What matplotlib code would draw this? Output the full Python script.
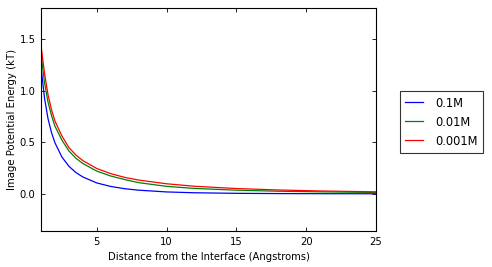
import matplotlib
matplotlib.use('Agg')
import matplotlib.pyplot as plt

# Data (distance in Angstroms, energy in kT)
distance = [1, 1.25, 1.5, 1.75, 2, 2.5, 3, 3.5, 4, 5, 6, 7, 8, 10, 12, 15, 18, 21, 25]
energy_01M = [1.23, 0.93, 0.73, 0.595, 0.494, 0.356, 0.267, 0.206, 0.163, 0.105,
              0.071, 0.049, 0.035, 0.018, 0.010, 0.0045, 0.0022, 0.001, 0.0003]
energy_001M = [1.35, 1.08, 0.89, 0.76, 0.655, 0.52, 0.415, 0.345, 0.293, 0.22,
               0.172, 0.138, 0.108, 0.072, 0.052, 0.035, 0.025, 0.019, 0.013]
energy_0001M = [1.44, 1.17, 0.963, 0.816, 0.705, 0.56, 0.448, 0.376, 0.321, 0.245,
                0.195, 0.159, 0.133, 0.097, 0.073, 0.051, 0.037, 0.0275, 0.019]
labels = ['0.1M', '0.01M', '0.001M']

plt.rcParams['font.family'] = 'DejaVu Sans'
plt.rcParams['font.size'] = 7

fig = plt.figure(figsize=(4.92, 2.67), dpi=100)
ax = fig.add_axes([0.0833, 0.135, 0.681, 0.835])

ax.plot(distance, energy_01M, color='b', linewidth=0.9, label=labels[0])
ax.plot(distance, energy_001M, color='g', linewidth=0.9, label=labels[1])
ax.plot(distance, energy_0001M, color='r', linewidth=0.9, label=labels[2])

ax.set_xlim(1, 25)
ax.set_ylim(-0.36, 1.8)
ax.set_xticks([5, 10, 15, 20, 25])
ax.set_yticks([0.0, 0.5, 1.0, 1.5])
ax.tick_params(direction='in', top=True, right=True, length=3, width=0.6, labelsize=7.2, pad=4)
for s in ax.spines.values():
    s.set_linewidth(0.8)

ax.set_xlabel('Distance from the Interface (Angstroms)', fontsize=7.2)
ax.set_ylabel('Image Potential Energy (kT)', fontsize=7.3, labelpad=2)

leg = ax.legend(loc='center left', bbox_to_anchor=(0.813, 0.543), bbox_transform=fig.transFigure,
                fontsize=8.3, fancybox=False, frameon=True, edgecolor='black',
                handlelength=1.55, handletextpad=1.05, labelspacing=0.52, borderpad=0.45,
                borderaxespad=0)
leg.get_frame().set_linewidth(0.8)

plt.savefig('out.png', dpi=100)
plt.close()
